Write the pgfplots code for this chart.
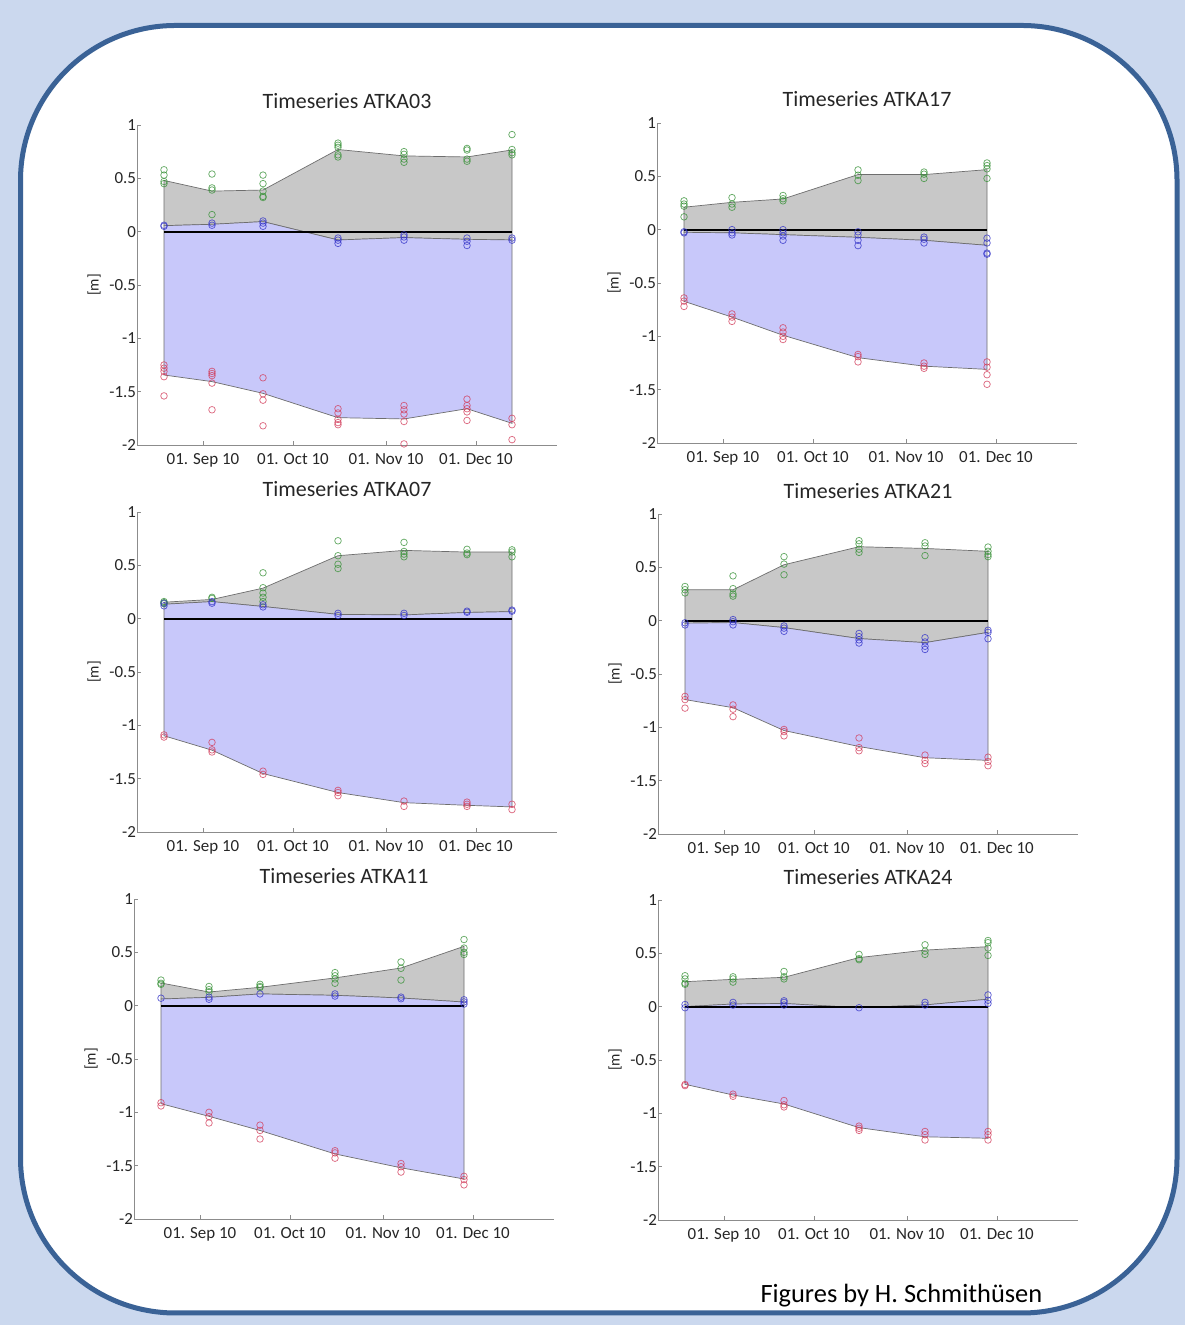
\documentclass[border=0pt]{standalone}
\usepackage{pgfplots}
\pgfplotsset{compat=1.18}
\usepgfplotslibrary{fillbetween}
\usepackage{pgfplotstable}
\usepackage{fontspec}
\setmainfont{Carlito}

\definecolor{bgblue}{RGB}{203,216,238}
\definecolor{framec}{RGB}{58,98,150}
\definecolor{fgray}{RGB}{200,200,200}
\definecolor{fblue}{RGB}{200,200,250}
\definecolor{edgec}{RGB}{110,110,110}
\definecolor{mgreen}{RGB}{55,145,55}
\definecolor{mblue}{RGB}{50,50,200}
\definecolor{mred}{RGB}{210,60,90}
\definecolor{axgray}{RGB}{140,140,140}
\definecolor{txt}{RGB}{38,38,38}

\pgfplotsset{
  tsaxis/.style={
    scale only axis, width=420bp, height=320bp,
    xmin=-22, xmax=118, ymin=-2, ymax=1,
    axis x line*=bottom, axis y line*=left,
    axis line style={axgray, line width=0.8bp},
    tick align=inside, major tick length=3.5bp,
    tick style={axgray, line width=0.8bp},
    xtick={0,30,61,91},
    xticklabels={01. Sep 10, 01. Oct 10, 01. Nov 10, 01. Dec 10},
    ytick={-2,-1.5,-1,-0.5,0,0.5,1},
    yticklabels={-2,-1.5,-1,-0.5,0,0.5,1},
    ticklabel style={font=\fontsize{17}{20}\selectfont, text=txt},
    xticklabel style={yshift=-5bp},
    yticklabel style={xshift=2.5bp},
    title style={font=\fontsize{22}{25}\selectfont, text=txt, at={(axis description cs:0.5,1)}, anchor=base, yshift=10bp},
    ylabel={[m]},
    every axis y label/.style={at={(axis description cs:-0.1024,0.5)}, rotate=90, anchor=center, font=\fontsize{15.5}{18}\selectfont, text=txt},
    clip=false,
  },
  gfill/.style={fill=fgray, draw=edgec, line width=0.7bp},
  bfill/.style={fill=fblue, draw=edgec, line width=0.7bp},
  gm/.style={only marks, mark=o, mark size=3.3bp, mark options={draw=mgreen, draw opacity=0.75, line width=0.75bp}},
  bm/.style={only marks, mark=o, mark size=3.3bp, mark options={draw=mblue, draw opacity=0.75, line width=0.75bp}},
  rm/.style={only marks, mark=o, mark size=3.3bp, mark options={draw=mred, draw opacity=0.75, line width=0.75bp}},
  zl/.style={black, line width=1.8bp},
}

% line data: day g(upper) b(middle) r(lower)
\pgfplotstableread{
d g b r
-13 0.48 0.056 -1.344
3 0.38 0.069 -1.406
20 0.39 0.094 -1.516
45 0.77 -0.078 -1.744
67 0.71 -0.056 -1.756
88 0.70 -0.072 -1.66
103 0.766 -0.078 -1.797
}\tA
\pgfplotstableread{
d g b r
-13 0.21 -0.025 -0.672
3 0.256 -0.03 -0.82
20 0.2875 -0.047 -0.99
45 0.516 -0.072 -1.20
67 0.516 -0.10 -1.28
88 0.5625 -0.147 -1.31
}\tB
\pgfplotstableread{
d g b r
-13 0.154 0.135 -1.098
3 0.18 0.16 -1.233
20 0.286 0.114 -1.452
45 0.59 0.04 -1.63
67 0.64 0.035 -1.725
88 0.624 0.058 -1.75
103 0.624 0.066 -1.765
}\tC
\pgfplotstableread{
d g b r
-13 0.289 -0.024 -0.74
3 0.289 -0.018 -0.816
20 0.524 -0.065 -1.03
45 0.693 -0.168 -1.18
67 0.677 -0.206 -1.285
88 0.65 -0.11 -1.31
}\tD
\pgfplotstableread{
d g b r
-13 0.2125 0.0625 -0.919
3 0.128 0.078 -1.0375
20 0.172 0.11 -1.17
45 0.26 0.097 -1.39
67 0.353 0.072 -1.52
88 0.556 0.034 -1.625
}\tE
\pgfplotstableread{
d g b r
-13 0.234 0.0 -0.728
3 0.256 0.025 -0.828
20 0.275 0.03 -0.9125
45 0.46 -0.01 -1.134
67 0.53 0.016 -1.22
88 0.5625 0.07 -1.234
}\tF

\begin{document}
\begin{tikzpicture}[x=1bp,y=1bp]
\pgfplotsset{set layers}
\begin{pgfonlayer}{axis background}
\fill[bgblue] (0,0) rectangle (1185,1325);
\draw[framec, line width=5bp, fill=white, rounded corners=155bp] (20.5,12) rectangle (1177,1299.5);
\end{pgfonlayer}
\node[anchor=base west, font=\fontsize{26.5}{30}\selectfont, text=black] at (757,22) {Figures by H. Schmithüsen};

% ---------- ATKA03
\begin{axis}[tsaxis, at={(137bp,880bp)}, anchor=south west, title={Timeseries ATKA03}]
\addplot[draw=none, name path=G] table[x=d,y=g]{\tA};
\addplot[draw=none, name path=B] table[x=d,y=b]{\tA};
\addplot[draw=none, name path=R] table[x=d,y=r]{\tA};
\addplot[gfill] fill between[of=G and B];
\addplot[bfill] fill between[of=B and R];
\addplot[zl] coordinates {(-13,0) (103,0)};
\addplot[gm] coordinates {(-13,0.58)(-13,0.53)(-13,0.47)(-13,0.45)(3,0.54)(3,0.41)(3,0.39)(3,0.16)(20,0.53)(20,0.45)(20,0.38)(20,0.33)(20,0.32)(45,0.83)(45,0.81)(45,0.79)(45,0.72)(45,0.70)(67,0.75)(67,0.725)(67,0.68)(67,0.65)(88,0.78)(88,0.765)(88,0.68)(88,0.66)(103,0.91)(103,0.77)(103,0.74)(103,0.72)};
\addplot[bm] coordinates {(-13,0.06)(-13,0.05)(3,0.08)(3,0.06)(20,0.10)(20,0.08)(20,0.05)(45,-0.06)(45,-0.08)(45,-0.11)(67,-0.03)(67,-0.05)(67,-0.08)(88,-0.06)(88,-0.09)(88,-0.13)(103,-0.06)(103,-0.08)};
\addplot[rm] coordinates {(-13,-1.25)(-13,-1.28)(-13,-1.31)(-13,-1.36)(-13,-1.54)(3,-1.31)(3,-1.33)(3,-1.35)(3,-1.42)(3,-1.67)(20,-1.37)(20,-1.52)(20,-1.58)(20,-1.82)(45,-1.66)(45,-1.70)(45,-1.76)(45,-1.79)(45,-1.81)(67,-1.63)(67,-1.67)(67,-1.71)(67,-1.78)(67,-1.99)(88,-1.57)(88,-1.63)(88,-1.66)(88,-1.69)(88,-1.77)(103,-1.75)(103,-1.81)(103,-1.95)};
\end{axis}

% ---------- ATKA17
\begin{axis}[tsaxis, at={(657bp,882bp)}, anchor=south west, title={Timeseries ATKA17}]
\addplot[draw=none, name path=G] table[x=d,y=g]{\tB};
\addplot[draw=none, name path=B] table[x=d,y=b]{\tB};
\addplot[draw=none, name path=R] table[x=d,y=r]{\tB};
\addplot[gfill] fill between[of=G and B];
\addplot[bfill] fill between[of=B and R];
\addplot[zl] coordinates {(-13,0) (88,0)};
\addplot[gm] coordinates {(-13,0.27)(-13,0.24)(-13,0.22)(-13,0.12)(3,0.30)(3,0.24)(3,0.21)(20,0.32)(20,0.29)(20,0.27)(45,0.56)(45,0.51)(45,0.46)(67,0.54)(67,0.52)(67,0.48)(88,0.625)(88,0.60)(88,0.57)(88,0.48)};
\addplot[bm] coordinates {(-13,-0.02)(-13,-0.03)(3,0)(3,-0.03)(3,-0.05)(20,0)(20,-0.03)(20,-0.06)(20,-0.10)(45,-0.02)(45,-0.05)(45,-0.10)(45,-0.15)(67,-0.07)(67,-0.09)(67,-0.125)(88,-0.08)(88,-0.125)(88,-0.22)(88,-0.23)};
\addplot[rm] coordinates {(-13,-0.64)(-13,-0.67)(-13,-0.72)(3,-0.79)(3,-0.82)(3,-0.86)(20,-0.92)(20,-0.96)(20,-1.00)(20,-1.03)(45,-1.17)(45,-1.19)(45,-1.24)(67,-1.25)(67,-1.28)(67,-1.30)(88,-1.24)(88,-1.29)(88,-1.36)(88,-1.45)};
\end{axis}

% ---------- ATKA07
\begin{axis}[tsaxis, at={(137bp,493bp)}, anchor=south west, title={Timeseries ATKA07}]
\addplot[draw=none, name path=G] table[x=d,y=g]{\tC};
\addplot[draw=none, name path=B] table[x=d,y=b]{\tC};
\addplot[draw=none, name path=R] table[x=d,y=r]{\tC};
\addplot[gfill] fill between[of=G and B];
\addplot[bfill] fill between[of=B and R];
\addplot[zl] coordinates {(-13,0) (103,0)};
\addplot[gm] coordinates {(-13,0.16)(-13,0.15)(-13,0.14)(3,0.20)(3,0.19)(20,0.43)(20,0.29)(20,0.24)(20,0.20)(20,0.16)(45,0.73)(45,0.59)(45,0.51)(45,0.47)(67,0.715)(67,0.63)(67,0.605)(67,0.58)(88,0.65)(88,0.615)(88,0.60)(103,0.645)(103,0.625)(103,0.58)};
\addplot[bm] coordinates {(-13,0.145)(-13,0.12)(3,0.16)(3,0.145)(20,0.13)(20,0.11)(45,0.05)(45,0.03)(67,0.05)(67,0.03)(88,0.07)(88,0.06)(103,0.08)(103,0.07)};
\addplot[rm] coordinates {(-13,-1.09)(-13,-1.11)(3,-1.16)(3,-1.23)(3,-1.25)(20,-1.43)(20,-1.46)(45,-1.61)(45,-1.63)(45,-1.66)(67,-1.71)(67,-1.76)(88,-1.72)(88,-1.74)(88,-1.76)(103,-1.74)(103,-1.79)};
\end{axis}

% ---------- ATKA21
\begin{axis}[tsaxis, at={(658bp,491bp)}, anchor=south west, title={Timeseries ATKA21}]
\addplot[draw=none, name path=G] table[x=d,y=g]{\tD};
\addplot[draw=none, name path=B] table[x=d,y=b]{\tD};
\addplot[draw=none, name path=R] table[x=d,y=r]{\tD};
\addplot[gfill] fill between[of=G and B];
\addplot[bfill] fill between[of=B and R];
\addplot[zl] coordinates {(-13,0) (88,0)};
\addplot[gm] coordinates {(-13,0.32)(-13,0.29)(-13,0.26)(3,0.42)(3,0.30)(3,0.25)(3,0.23)(20,0.60)(20,0.53)(20,0.43)(45,0.75)(45,0.72)(45,0.67)(45,0.64)(67,0.73)(67,0.70)(67,0.61)(88,0.69)(88,0.65)(88,0.62)(88,0.60)};
\addplot[bm] coordinates {(-13,-0.02)(-13,-0.04)(3,0.01)(3,-0.01)(3,-0.04)(20,-0.05)(20,-0.07)(20,-0.10)(45,-0.12)(45,-0.15)(45,-0.18)(45,-0.21)(67,-0.16)(67,-0.20)(67,-0.24)(67,-0.27)(88,-0.09)(88,-0.11)(88,-0.17)};
\addplot[rm] coordinates {(-13,-0.71)(-13,-0.74)(-13,-0.82)(3,-0.79)(3,-0.83)(3,-0.90)(20,-1.02)(20,-1.04)(20,-1.08)(45,-1.10)(45,-1.19)(45,-1.22)(67,-1.26)(67,-1.31)(67,-1.34)(88,-1.28)(88,-1.32)(88,-1.36)};
\end{axis}

% ---------- ATKA11
\begin{axis}[tsaxis, at={(134bp,106bp)}, anchor=south west, title={Timeseries ATKA11}]
\addplot[draw=none, name path=G] table[x=d,y=g]{\tE};
\addplot[draw=none, name path=B] table[x=d,y=b]{\tE};
\addplot[draw=none, name path=R] table[x=d,y=r]{\tE};
\addplot[gfill] fill between[of=G and B];
\addplot[bfill] fill between[of=B and R];
\addplot[zl] coordinates {(-13,0) (88,0)};
\addplot[gm] coordinates {(-13,0.24)(-13,0.21)(-13,0.20)(3,0.18)(3,0.15)(3,0.13)(20,0.20)(20,0.18)(20,0.17)(45,0.31)(45,0.28)(45,0.25)(45,0.21)(67,0.41)(67,0.35)(67,0.24)(88,0.62)(88,0.54)(88,0.50)(88,0.48)};
\addplot[bm] coordinates {(-13,0.07)(3,0.08)(3,0.06)(20,0.11)(45,0.11)(45,0.09)(67,0.08)(67,0.065)(88,0.055)(88,0.035)(88,0.015)};
\addplot[rm] coordinates {(-13,-0.91)(-13,-0.94)(3,-1.00)(3,-1.04)(3,-1.10)(20,-1.12)(20,-1.17)(20,-1.25)(45,-1.36)(45,-1.38)(45,-1.43)(67,-1.48)(67,-1.51)(67,-1.56)(88,-1.60)(88,-1.63)(88,-1.68)};
\end{axis}

% ---------- ATKA24
\begin{axis}[tsaxis, at={(658bp,105bp)}, anchor=south west, title={Timeseries ATKA24}]
\addplot[draw=none, name path=G] table[x=d,y=g]{\tF};
\addplot[draw=none, name path=B] table[x=d,y=b]{\tF};
\addplot[draw=none, name path=R] table[x=d,y=r]{\tF};
\addplot[gfill] fill between[of=G and B];
\addplot[bfill] fill between[of=B and R];
\addplot[zl] coordinates {(-13,0) (88,0)};
\addplot[gm] coordinates {(-13,0.29)(-13,0.26)(-13,0.22)(-13,0.21)(3,0.28)(3,0.26)(3,0.23)(20,0.33)(20,0.28)(20,0.26)(45,0.49)(45,0.45)(45,0.44)(67,0.58)(67,0.52)(67,0.49)(88,0.62)(88,0.60)(88,0.55)(88,0.48)};
\addplot[bm] coordinates {(-13,0.02)(-13,-0.01)(3,0.04)(3,0.015)(20,0.055)(20,0.04)(20,0.015)(45,-0.01)(67,0.04)(67,0.015)(88,0.11)(88,0.06)(88,0.03)};
\addplot[rm] coordinates {(-13,-0.73)(-13,-0.74)(3,-0.82)(3,-0.84)(20,-0.88)(20,-0.92)(20,-0.94)(45,-1.12)(45,-1.14)(45,-1.16)(67,-1.17)(67,-1.20)(67,-1.25)(88,-1.17)(88,-1.20)(88,-1.25)};
\end{axis}
\end{tikzpicture}
\end{document}
